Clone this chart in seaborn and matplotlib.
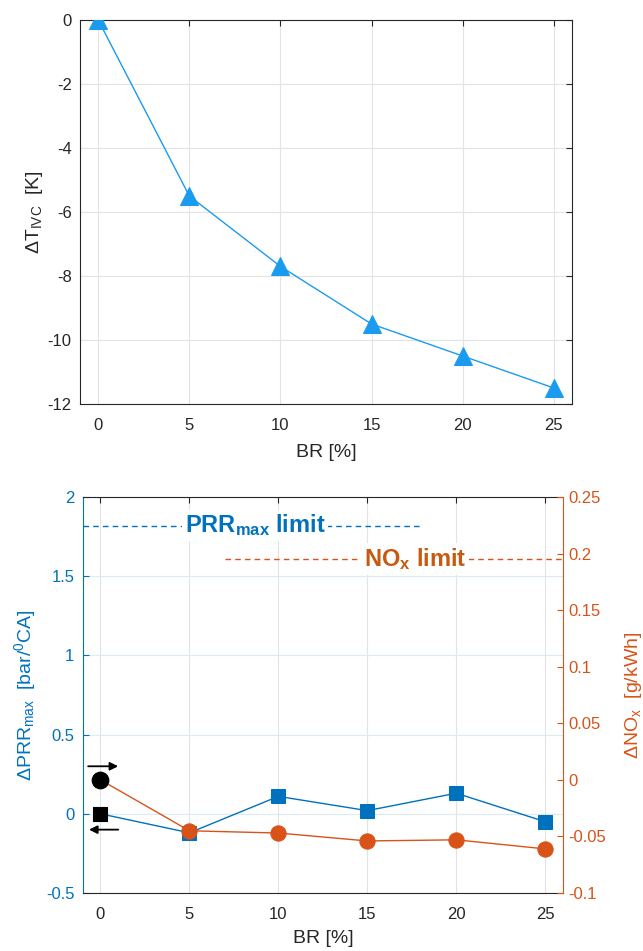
import numpy as np
import pandas as pd
import matplotlib
matplotlib.use("Agg")
import matplotlib.pyplot as plt
import seaborn as sns

# ---- data ----
br = [0, 5, 10, 15, 20, 25]
dT_ivc = [0, -5.5, -7.7, -9.5, -10.5, -11.5]
d_prr = [0, -0.12, 0.11, 0.02, 0.13, -0.05]
d_nox = [0, -0.045, -0.047, -0.054, -0.053, -0.061]
prr_limit = 1.82
nox_limit = 0.195
x_ticks = [0, 5, 10, 15, 20, 25]
top_yticks = [0, -2, -4, -6, -8, -10, -12]
left_yticks = [-0.5, 0, 0.5, 1, 1.5, 2]
right_yticks = [-0.1, -0.05, 0, 0.05, 0.1, 0.15, 0.2, 0.25]

sns.set_theme(style="white")
plt.rcParams['font.family'] = ['Liberation Sans', 'DejaVu Sans']
plt.rcParams['mathtext.fontset'] = 'custom'
plt.rcParams['mathtext.rm'] = 'Liberation Sans'
plt.rcParams['mathtext.it'] = 'Liberation Sans:italic'
plt.rcParams['mathtext.bf'] = 'Liberation Sans:bold'
plt.rcParams['xtick.direction'] = 'in'
plt.rcParams['ytick.direction'] = 'in'
plt.rcParams['axes.unicode_minus'] = False

BLUE = '#0072BD'
ORANGE = '#D95319'
LBLUE = '#1a9bef'
DARK = '#262626'
TICK_FS = 12
LAB_FS = 14

fig = plt.figure(figsize=(6.43, 9.51), dpi=100)

# ---------------- top axes ----------------
ax = fig.add_axes([80/643, 1-404/951, 492/643, 384/951])
df_top = pd.DataFrame({'BR': br, 'dT': dT_ivc})
sns.lineplot(data=df_top, x='BR', y='dT', ax=ax, color=LBLUE, lw=1.0,
             marker='^', markersize=12.5, markerfacecolor=LBLUE,
             markeredgecolor=LBLUE, zorder=3)
ax.set_xlim(-1, 26)
ax.set_ylim(-12, 0)
ax.set_xticks(x_ticks)
ax.set_yticks(top_yticks)
ax.grid(True, color='#e3e3e3', lw=0.8)
ax.set_axisbelow(True)
for s in ax.spines.values():
    s.set_color(DARK); s.set_linewidth(0.8); s.set_visible(True)
ax.tick_params(axis='both', which='both', colors=DARK, labelsize=TICK_FS,
               top=True, right=True, length=4, width=0.8, pad=6)
ax.tick_params(axis='x', pad=10)
ax.set_xlabel('BR [%]', fontsize=LAB_FS, color=DARK, labelpad=8)
ax.set_ylabel(r'$\Delta$T$_{\mathrm{IVC}}$  [K]', fontsize=LAB_FS, color=DARK, labelpad=2)

# ---------------- bottom axes ----------------
ax1 = fig.add_axes([82.7/643, 1-893/951, 480.3/643, 396/951])
ax2 = ax1.twinx()

df_b = pd.DataFrame({'BR': br, 'PRR': d_prr, 'NOx': d_nox})
sns.lineplot(data=df_b, x='BR', y='PRR', ax=ax1, color=BLUE, lw=1.0,
             marker='s', markersize=9.5, markerfacecolor=BLUE,
             markeredgecolor=BLUE, zorder=3)
sns.lineplot(data=df_b, x='BR', y='NOx', ax=ax2, color=ORANGE, lw=1.0,
             marker='o', markersize=11, markerfacecolor=ORANGE,
             markeredgecolor=ORANGE, zorder=3)
# first points black
sns.scatterplot(x=br[:1], y=d_prr[:1], ax=ax1, marker='s', s=95, color='black',
                edgecolor='black', zorder=4)
sns.scatterplot(x=br[:1], y=d_nox[:1], ax=ax2, marker='o', s=140, color='black',
                edgecolor='black', zorder=4)

ax1.set_xlim(-1, 26)
ax1.set_ylim(-0.5, 2)
ax2.set_ylim(-0.1, 0.25)
ax1.set_xticks(x_ticks)
ax1.set_yticks(left_yticks)
ax1.set_yticklabels(['-0.5', '0', '0.5', '1', '1.5', '2'])
ax2.set_yticks(right_yticks)
ax2.set_yticklabels(['-0.1', '-0.05', '0', '0.05', '0.1', '0.15', '0.2', '0.25'])

ax1.grid(False)
ax2.grid(False)
ax1.xaxis.grid(True, color='#e3e3e3', lw=0.8)
ax1.yaxis.grid(True, color='#dde9f5', lw=0.8)
ax1.set_axisbelow(True)

for s in ['top', 'bottom']:
    ax1.spines[s].set_color(DARK); ax1.spines[s].set_linewidth(0.8)
ax2.spines['top'].set_visible(False); ax2.spines['bottom'].set_visible(False)
ax2.spines['left'].set_visible(False)
ax1.spines['left'].set_color(BLUE); ax1.spines['left'].set_linewidth(0.8)
ax1.spines['right'].set_visible(False)
ax2.spines['right'].set_color(ORANGE); ax2.spines['right'].set_linewidth(0.8)

ax1.tick_params(axis='x', colors=DARK, labelsize=TICK_FS, top=True, length=4, width=0.8, pad=10)
ax1.tick_params(axis='y', colors=BLUE, labelsize=TICK_FS, length=4, width=0.8, pad=6)
ax2.tick_params(axis='y', colors=ORANGE, labelsize=TICK_FS, length=4, width=0.8, pad=4)

ax1.set_xlabel('BR [%]', fontsize=LAB_FS, color=DARK, labelpad=6)
ax1.set_ylabel(r'$\Delta$PRR$_{\mathrm{max}}$  [bar/$^{0}$CA]', fontsize=LAB_FS,
               color=BLUE, labelpad=6)
ax2.set_ylabel(r'$\Delta$NO$_{\mathrm{x}}$  [g/kWh]', fontsize=LAB_FS,
               color=ORANGE, labelpad=12)

# limit lines
ax1.plot([-1, 18], [prr_limit, prr_limit], ls=(0, (4, 3)), color=BLUE, lw=1.0, zorder=2)
ax1.text(8.7, prr_limit, r'PRR$_{\mathbf{max}}$ limit', color=BLUE, fontsize=17,
         fontweight='bold', ha='center', va='center', zorder=5,
         bbox=dict(facecolor='white', edgecolor='none', pad=2))
ax2.plot([7, 26], [nox_limit, nox_limit], ls=(0, (4, 3)), color=ORANGE, lw=1.0, zorder=2)
ax2.text(17.7, nox_limit, r'NO$_{\mathbf{x}}$ limit', color='#C65A10', fontsize=17,
         fontweight='bold', ha='center', va='center', zorder=5,
         bbox=dict(facecolor='white', edgecolor='none', pad=2))

# arrows indicating axis
ax1.annotate('', xy=(1.15, 0.30), xytext=(-0.85, 0.30),
             arrowprops=dict(arrowstyle='-|>', color='black', lw=1.3, mutation_scale=12))
ax1.annotate('', xy=(-0.8, -0.10), xytext=(1.15, -0.10),
             arrowprops=dict(arrowstyle='-|>', color='black', lw=1.3, mutation_scale=12))

fig.savefig('out.png', dpi=100)
